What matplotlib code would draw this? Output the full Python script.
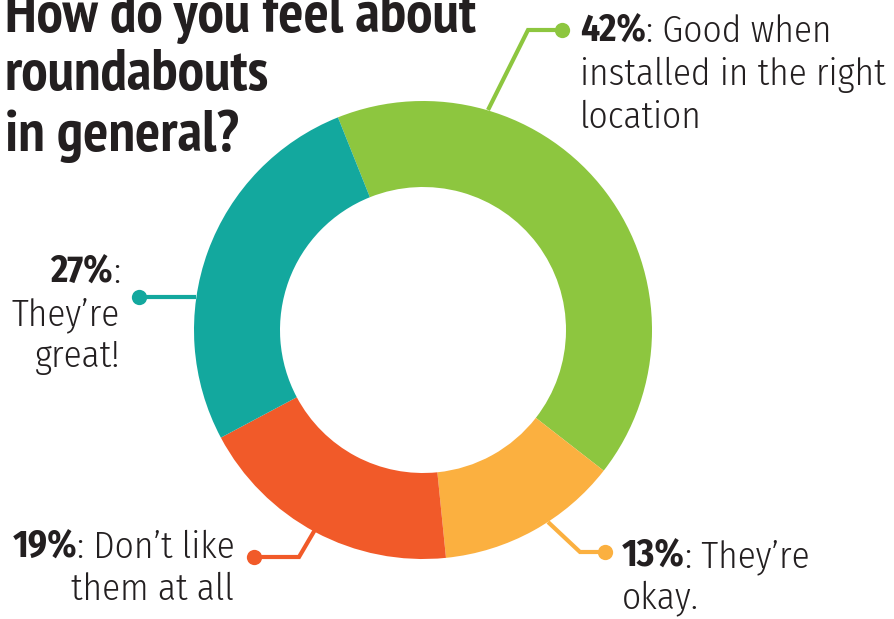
import matplotlib
matplotlib.use("Agg")
import matplotlib.pyplot as plt

# survey answers, clockwise from the top
answers = ["Good when installed in the right location", "They're okay.",
           "Don't like them at all", "They're great!"]
shares = [42, 13, 19, 27]
colors = ["#8DC63F", "#FBB040", "#F15A29", "#13A89E"]

title_lines = ["How do you feel about", "roundabouts", "in general?"]

INK = "#231F20"
TITLE_FONT = dict(family=["PT Sans Narrow", "DejaVu Sans"], weight="bold", fontsize=42.7, color=INK)
LIGHT = dict(family=["Fira Sans Condensed", "DejaVu Sans"], weight=300, fontsize=26.8, color=INK)
BOLD = dict(family=["Fira Sans Condensed", "DejaVu Sans"], weight=700, fontsize=26.8, color=INK)

fig = plt.figure(figsize=(8.95, 6.19), dpi=100)
ax = fig.add_axes([0, 0, 1, 1])

# donut; axis is in pixels with y pointing down, so counterclock=True reads clockwise
ax.pie(shares, colors=colors, center=(423, 330), radius=229, startangle=248.2,
       counterclock=True, wedgeprops=dict(width=86, linewidth=0))
ax.set_xlim(0, 895)
ax.set_ylim(619, 0)
ax.set_aspect("auto")
ax.axis("off")

# leader lines
leaders = [
    ([488, 528, 562], [110, 30, 30], colors[0]),
    ([548, 580, 605], [522, 552, 552], colors[1]),
    ([316, 299, 254], [528, 557, 557], colors[2]),
    ([196, 139], [297, 297], colors[3]),
]
for xs, ys, c in leaders:
    ax.plot(xs, ys, color=c, lw=3, solid_capstyle="butt", solid_joinstyle="miter")
    ax.plot(xs[-1], ys[-1], "o", color=c, ms=11, mec="none")

renderer = fig.canvas.get_renderer()


def width_of(t):
    return t.get_window_extent(renderer).width


def head(x, y, pct, rest, ha="left"):
    if ha == "left":
        b = ax.text(x, y, pct, va="baseline", ha="left", **BOLD)
        ax.text(x + width_of(b), y, rest, va="baseline", ha="left", **LIGHT)
    else:
        r = ax.text(x, y, rest, va="baseline", ha="right", **LIGHT)
        ax.text(x - width_of(r), y, pct, va="baseline", ha="right", **BOLD)


# 42%
head(580, 42, f"{shares[0]}%", ": Good when")
ax.text(580, 85, "installed in the right", va="baseline", **LIGHT)
ax.text(580, 128, "location", va="baseline", **LIGHT)

# 13%
head(622, 567, f"{shares[1]}%", ": They\u2019re")
ax.text(622, 608, "okay.", va="baseline", **LIGHT)

# 19%
head(13, 558, f"{shares[2]}%", ": Don\u2019t like")
ax.text(234, 600, "them at all", va="baseline", ha="right", **LIGHT)

# 27%
head(120, 283, f"{shares[3]}%", ":", ha="right")
ax.text(120, 325, "They\u2019re", va="baseline", ha="right", **LIGHT)
ax.text(120, 367, "great!", va="baseline", ha="right", **LIGHT)

for line, base in zip(title_lines, [32, 90, 151]):
    ax.text(5, base, line, va="baseline", ha="left", **TITLE_FONT)

fig.savefig("out.png", dpi=100)
